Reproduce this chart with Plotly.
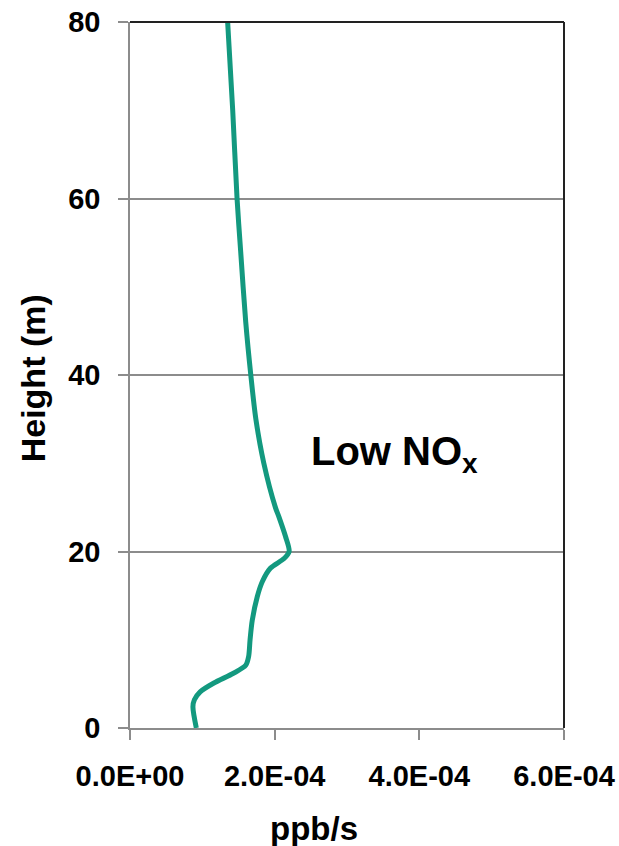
import plotly.graph_objects as go

# Vertical profile of the production rate (ppb/s) against height (m)
height_m = [0, 2.4, 3.2, 4.1, 5.1, 6.2, 7.1, 8.1, 10.0, 12.2, 14.9, 16.6, 18.1,
            19.2, 20.0, 21.7, 23.9, 25.0, 30.0, 35.0, 40.0, 46.0, 54.0, 60.0, 70.0, 80.0]
rate_ppb_s = [0.917e-4, 0.87e-4, 0.89e-4, 0.97e-4, 1.16e-4, 1.43e-4, 1.60e-4, 1.64e-4,
              1.66e-4, 1.69e-4, 1.76e-4, 1.83e-4, 1.94e-4, 2.13e-4, 2.20e-4, 2.15e-4,
              2.06e-4, 2.01e-4, 1.85e-4, 1.74e-4, 1.67e-4, 1.60e-4, 1.53e-4, 1.48e-4,
              1.42e-4, 1.35e-4]

x_tick_vals = [0, 2e-4, 4e-4, 6e-4]
x_tick_text = ["0.0E+00", "2.0E-04", "4.0E-04", "6.0E-04"]
y_tick_vals = [0, 20, 40, 60, 80]

FONT = "Liberation Sans, Arial, sans-serif"
GRID = "#8c8c8c"

fig = go.Figure()
fig.add_trace(go.Scatter(
    x=rate_ppb_s, y=height_m, mode="lines",
    line=dict(color="#13997f", width=5, shape="spline", smoothing=0.8),
    hoverinfo="skip", showlegend=False,
))

fig.update_layout(
    width=619, height=846,
    margin=dict(l=130, r=55, t=22, b=118, autoexpand=False),
    paper_bgcolor="white", plot_bgcolor="white",
    font=dict(family=FONT, color="black"),
    xaxis=dict(
        range=[0, 6e-4], tickvals=x_tick_vals, ticktext=x_tick_text,
        showgrid=False, zeroline=False, automargin=False,
        showline=True, linecolor=GRID, linewidth=1.5,
        ticks="outside", ticklen=10, tickcolor=GRID, tickwidth=1.5,
        tickfont=dict(family=FONT, size=29, color="black", weight="bold"),
        ticklabelstandoff=11,
    ),
    yaxis=dict(
        range=[0, 80], tickvals=y_tick_vals,
        showgrid=True, gridcolor=GRID, gridwidth=1.5, zeroline=False,
        automargin=False,
        showline=True, linecolor=GRID, linewidth=1.5,
        ticks="outside", ticklen=10, tickcolor=GRID, tickwidth=1.5,
        tickfont=dict(family=FONT, size=29, color="black", weight="bold"),
        ticklabelstandoff=12,
    ),
    shapes=[
        # dark frame on the top and right edges of the plot area
        dict(type="line", xref="paper", yref="paper", x0=0, x1=1, y0=1, y1=1,
             line=dict(color="#222222", width=2)),
        dict(type="line", xref="paper", yref="paper", x0=1, x1=1, y0=0, y1=1,
             line=dict(color="#222222", width=2)),
    ],
    annotations=[
        dict(text="Low NO<sub>x</sub>", x=2.47e-4, y=31.0, xref="x", yref="y",
             xanchor="left", yanchor="middle", showarrow=False,
             font=dict(family=FONT, size=40, color="black", weight="bold")),
        dict(text="ppb/s", x=0.424, y=-0.142, xref="paper", yref="paper",
             xanchor="center", yanchor="middle", showarrow=False,
             font=dict(family=FONT, size=33, color="black", weight="bold")),
        dict(text="Height (m)", x=-0.224, y=0.495, xref="paper", yref="paper",
             xanchor="center", yanchor="middle", showarrow=False, textangle=-90,
             font=dict(family=FONT, size=34, color="black", weight="bold")),
    ],
)

fig.write_html("out.html")
